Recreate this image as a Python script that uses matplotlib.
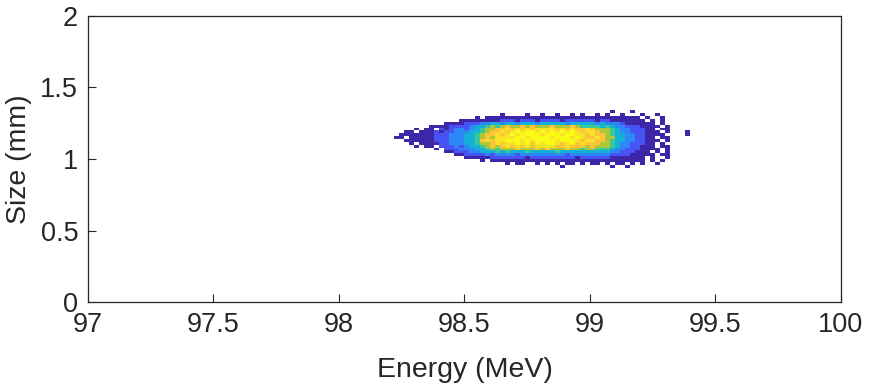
import numpy as np
import matplotlib
matplotlib.use('Agg')
import matplotlib.pyplot as plt
from matplotlib.colors import LinearSegmentedColormap

# 2D histogram of the beam, counts binned to a 0-9 scale (0 = empty bin)
# energy bins: 64 bins of 0.02 MeV starting at 98.20
# size bins: 21 bins of 0.02 mm, rows listed from top (1.34) to bottom (0.92)
E_START, E_STEP, E_BINS = 98.20, 0.02, 64
S_TOP, S_STEP, S_BINS = 1.34, 0.02, 21

COUNT_ROWS = [
    "00000000 00000000 00000000 00000000 00000000 00001000 10000000 00000000",
    "00000000 00000000 00000010 00010010 01001010 01010010 00100100 00000000",
    "00000000 00000000 01011111 11111111 11111111 11111111 11010010 00000000",
    "00000000 00000011 11111122 21222122 22122222 21221111 11101010 00000000",
    "00000000 00011112 22334434 43444344 44434444 43433321 11111010 00000000",
    "00000000 11112222 34456567 66767666 76667655 55454332 22111101 00000000",
    "00000101 10212332 34566778 78787888 87878778 76665433 22211011 00000000",
    "00011011 12122333 44567787 89899898 98989878 87665433 22211101 00010000",
    "00111111 12223334 45677878 98999989 99899887 87765443 32211110 00010000",
    "01101111 12223334 45676888 89989999 89998987 78766443 32211011 00000000",
    "00011111 12223334 45787889 99898999 98999878 87765443 32211101 00000000",
    "00001011 11223334 45667878 89897989 98789787 77665433 22211010 00000000",
    "00000101 10222323 44567678 78787888 87787776 76665433 22111011 00000000",
    "00000000 01022233 34456566 67666767 66676656 65554332 22111101 00000000",
    "00000000 00011222 33444545 44454444 45444444 44443322 21110101 00000000",
    "00000000 00000112 22232333 32333333 33323333 33332222 11111011 00000000",
    "00000000 00000001 11112222 22212222 22222122 22221111 11101001 00000000",
    "00000000 00000000 00101111 11111111 11111111 11111111 11101010 00000000",
    "00000000 00000000 00000001 01100101 01011010 11010110 10100100 00000000",
    "00000000 00000000 00000000 00000000 00100000 00001001 00000000 00000000",
    "00000000 00000000 00000000 00000000 00000000 00000000 00000000 00000000",
]

# parula-like colormap
PARULA = [
    (0.2422, 0.1504, 0.6603), (0.2810, 0.3228, 0.9579), (0.1786, 0.5289, 0.9682),
    (0.0689, 0.6948, 0.8394), (0.2161, 0.7843, 0.5923), (0.6720, 0.7793, 0.2227),
    (0.9970, 0.7659, 0.2199), (0.9626, 0.8890, 0.1537), (0.9769, 0.9839, 0.0805),
]
cmap = LinearSegmentedColormap.from_list('parula', PARULA)

counts = np.array([[int(c) for c in row.replace(' ', '')] for row in COUNT_ROWS], dtype=float)
counts = counts[::-1]  # bottom row first
counts = np.ma.masked_equal(counts, 0)

e_edges = E_START + E_STEP * np.arange(E_BINS + 1)
s_edges = (S_TOP - S_STEP * S_BINS) + S_STEP * np.arange(S_BINS + 1)

plt.rcParams['font.family'] = ['Liberation Sans', 'DejaVu Sans']

fig = plt.figure(figsize=(8.71, 3.9), dpi=100)
ax = fig.add_axes([0.101, 0.2256, 0.8645, 0.7334])
ax.pcolormesh(e_edges, s_edges, counts, cmap=cmap, vmin=1, vmax=9)

ax.set_xlim(97, 100)
ax.set_ylim(0, 2)
ax.set_xticks([97, 97.5, 98, 98.5, 99, 99.5, 100])
ax.set_xticklabels(['97', '97.5', '98', '98.5', '99', '99.5', '100'])
ax.set_yticks([0, 0.5, 1, 1.5, 2])
ax.set_yticklabels(['0', '0.5', '1', '1.5', '2'])

dark = '#262626'
for sp in ax.spines.values():
    sp.set_color(dark)
    sp.set_linewidth(0.9)
ax.tick_params(direction='in', length=6, width=0.8, colors=dark, labelsize=19.5,
               top=False, right=False)
ax.tick_params(axis='x', pad=7)
ax.tick_params(axis='y', pad=7)

ax.set_xlabel('Energy (MeV)', fontsize=20.5, color=dark, labelpad=14)
ax.set_ylabel('Size (mm)', fontsize=20.5, color=dark, labelpad=6)

fig.savefig('out.png', dpi=100)
